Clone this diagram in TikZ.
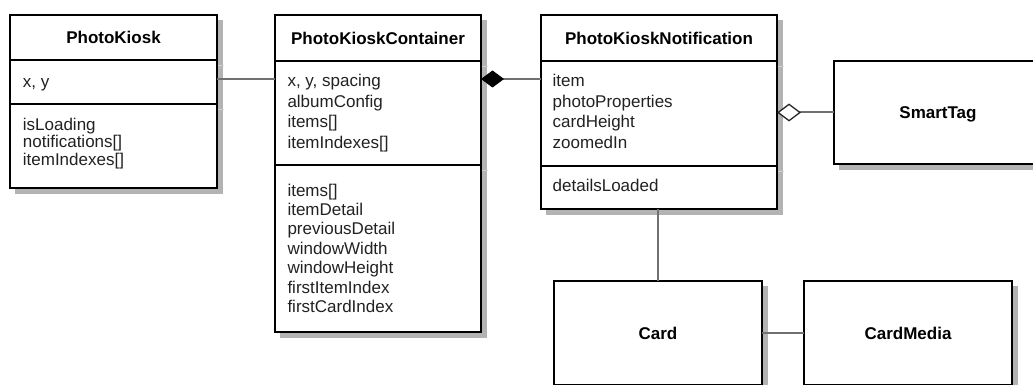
\documentclass[tikz,border=0pt]{standalone}
\usepackage{fontspec}
\setmainfont{Liberation Sans}
\usetikzlibrary{arrows.meta,backgrounds}
\definecolor{conncol}{HTML}{707070}
\definecolor{shadowcol}{HTML}{B3B3B3}
\definecolor{tickcol}{HTML}{CFCFCF}
\definecolor{txtcol}{HTML}{222222}
\begin{document}
\begin{tikzpicture}[x=1pt,y=-1pt,
  box/.style={draw=black, line width=2pt, fill=white, rectangle, inner sep=0pt, outer sep=0pt, anchor=north west},
  namedbox/.style={box, font=\fontsize{17}{20}\selectfont\bfseries, text=black, text height=12.2pt, text depth=0pt},
  shade/.style={fill=shadowcol},
  divider/.style={draw=black, line width=2pt},
  title/.style={font=\fontsize{17}{20}\selectfont\bfseries, text=black, inner sep=0pt, text height=12.2pt, text depth=0pt},
  member/.style={font=\fontsize{17}{20}\selectfont, text=txtcol, anchor=west, inner sep=0pt, text height=12.4pt, text depth=3.6pt},
  conn/.style={draw=conncol, line width=2pt},
  tickline/.style={draw=tickcol, line width=1pt}]
\useasboundingbox (0,0) rectangle (1033,385);

% ---------- boxes ----------
\node[box, minimum width=207pt, minimum height=173pt] (pk) at (10,15) {};
\node[box, minimum width=206pt, minimum height=317pt] (cont) at (275,15) {};
\node[box, minimum width=236pt, minimum height=194pt] (note) at (541,15) {};
\node[namedbox, minimum width=208pt, minimum height=103pt] (smart) at (834,61) {SmartTag};
\node[namedbox, minimum width=208pt, minimum height=104pt] (card) at (554,281) {Card};
\node[namedbox, minimum width=208pt, minimum height=104pt] (media) at (804,281) {CardMedia};

% ---------- shadows ----------
\begin{scope}[on background layer]
  \foreach \b in {pk,cont,note,smart,card,media}
    \fill[shade] ([shift={(5,5)}]\b.north west) rectangle ([shift={(6,6)}]\b.south east);
\end{scope}

% ---------- helper coordinates ----------
\coordinate (y79) at (0,79);
\coordinate (pkd1) at (0,60.5);  \coordinate (pkd2) at (0,104);
\coordinate (cd1) at (0,61);     \coordinate (cd2) at (0,165);
\coordinate (nd1) at (0,61);     \coordinate (nd2) at (0,166);

% ---------- dividers ----------
\draw[divider] (pk.west |- pkd1) -- (pk.east |- pkd1);
\draw[divider] (pk.west |- pkd2) -- (pk.east |- pkd2);
\draw[divider] (cont.west |- cd1) -- (cont.east |- cd1);
\draw[divider] (cont.west |- cd2) -- (cont.east |- cd2);
\draw[divider] (note.west |- nd1) -- (note.east |- nd1);
\draw[divider] (note.west |- nd2) -- (note.east |- nd2);

% shadow ticks of the dividers
\foreach \b/\d in {pk/pkd1,pk/pkd2,cont/cd1,cont/cd2,note/nd1,note/nd2}
  \draw[tickline] ([shift={(1,5.5)}]\b.east |- \d) -- ([shift={(7,5.5)}]\b.east |- \d);

% ---------- titles ----------
\node[title] (pkT) at (pk.north |- 0,37.5) {PhotoKiosk};
\node[title] (contT) at (cont.north |- 0,38) {PhotoKioskContainer};
\node[title] (noteT) at (note.north |- 0,38) {PhotoKioskNotification};

% ---------- members ----------
\node[member] (pkA1) at (22.7,83) {x, y};
\foreach \t [count=\i from 0] in {isLoading, notifications[], itemIndexes[]}
  \node[member] (pkM\i) at (22.7,126.3+\i*17.2) {\t};

\foreach \t [count=\i from 0] in {{x, y, spacing}, albumConfig, items[], itemIndexes[]}
  \node[member] (contA\i) at (287.3,82.5+\i*20.4) {\t};
\foreach \t [count=\i from 0] in {items[], itemDetail, previousDetail, windowWidth, windowHeight, firstItemIndex, firstCardIndex}
  \node[member] (contM\i) at (287.3,191.6+\i*19.45) {\t};

\foreach \t [count=\i from 0] in {item, photoProperties, cardHeight, zoomedIn}
  \node[member] (noteA\i) at (552.5,82.3+\i*20.6) {\t};
\node[member] (noteM0) at (552.5,187.3) {detailsLoaded};

% ---------- connectors ----------
\draw[conn] (pk.east |- y79) -- (cont.west |- y79);
\draw[conn, {Diamond[length=23pt,width=17pt,color=black,fill=black,line width=1pt]}-]
  (cont.east |- y79) -- (note.west |- y79);
\draw[conn, {Diamond[length=24pt,width=18pt,color=black!85,fill=white,line width=1.3pt]}-]
  (note.east |- smart.west) -- (smart.west);
\draw[conn] (note.south -| card.north) -- (card.north);
\draw[conn] (card.east) -- (media.west);
\end{tikzpicture}
\end{document}
